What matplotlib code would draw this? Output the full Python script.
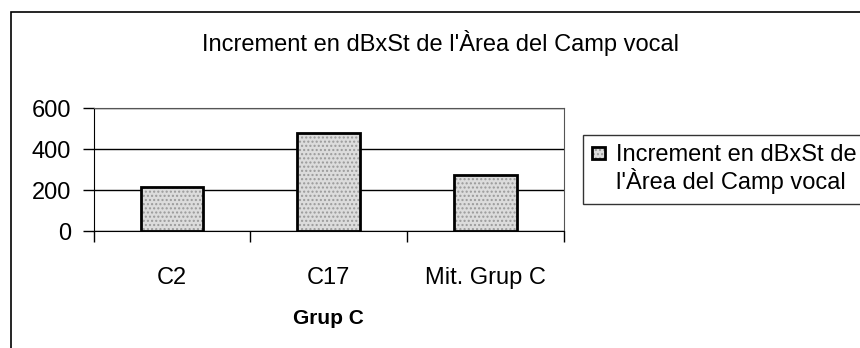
import matplotlib.pyplot as plt
from matplotlib.patches import Rectangle

plt.rcParams['font.family'] = ['Liberation Sans', 'DejaVu Sans']

# dades
categories = ["C2", "C17", "Mit. Grup C"]
valors = [215, 478, 275]
yticks = [0, 200, 400, 600]
titol = "Increment en dBxSt de l'Àrea del Camp vocal"
serie = ["Increment en dBxSt de", "l'Àrea del Camp vocal"]
eix_x = "Grup C"

fig = plt.figure(figsize=(8.6, 3.48), dpi=100)
ax = fig.add_axes([93.5 / 860, 1 - 231 / 348, 470.5 / 860, 122.7 / 348])

x = range(len(categories))
# farciment puntejat
farc = ax.bar(x, valors, width=0.4, color="#dcdcdc", edgecolor="#9a9a9a",
              hatch="....", linewidth=0, zorder=2)
# contorn negre
vora = ax.bar(x, valors, width=0.4, fill=False, edgecolor="black",
              linewidth=2, zorder=3)

ax.set_xlim(-0.5, 2.5)
ax.set_ylim(0, 600)
ax.set_yticks(yticks)
ax.set_xticks([-0.5, 0.5, 1.5, 2.5])
ax.set_xticklabels([])
ax.set_xticks(list(x), categories, minor=True)
ax.tick_params(axis="x", which="major", length=8, direction="out", width=1)
ax.tick_params(axis="x", which="minor", length=0, pad=26, labelsize=17)
ax.tick_params(axis="y", length=8, width=1, pad=8, labelsize=17)
ax.yaxis.grid(True, color="black", linewidth=1, zorder=1)
ax.set_axisbelow(True)
for s in ["top", "right"]:
    ax.spines[s].set_color("#555555")
ax.set_xlabel(eix_x, fontsize=15, fontweight="bold", labelpad=14)

fig.text(0.512, 1 - 51.5 / 348, titol, ha="center", va="baseline", fontsize=17)

# llegenda: la segona línia sense marca per alinear el quadret amb la primera
buit = Rectangle((0, 0), 1, 1, visible=False)
leg = fig.legend(handles=[(farc, vora), buit], labels=serie, loc="upper left",
                 bbox_to_anchor=(583 / 860, 1 - 135 / 348), fontsize=17,
                 frameon=True, fancybox=False, edgecolor="black",
                 handlelength=0.55, handleheight=0.45, handletextpad=0.45,
                 borderpad=0.4, labelspacing=0.08, borderaxespad=0)
leg.get_frame().set_linewidth(1)

# marc exterior del gràfic
fig.add_artist(Rectangle((11 / 860, -0.1), 1.2, 1 - 12 / 348 + 0.1,
                         transform=fig.transFigure, fill=False,
                         edgecolor="black", linewidth=1.2, clip_on=False))

plt.savefig("out.png", dpi=100)
